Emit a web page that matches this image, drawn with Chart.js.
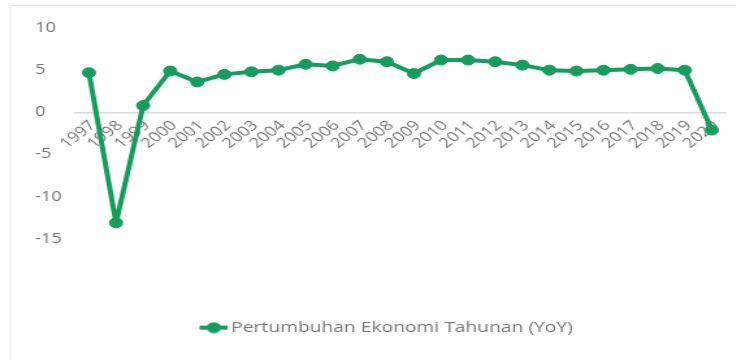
<!DOCTYPE html>
<html>
<head>
  <meta charset="utf-8" />
  <script src="https://cdn.jsdelivr.net/npm/chart.js@4.4.1/dist/chart.umd.min.js"></script>
  <style>
    body{margin:0;background:#fff;overflow:hidden;}
    /* chart is laid out narrow, then widened to fill the 736px window */
    #wrap{width:566px;height:360px;transform:scaleX(1.3);transform-origin:0 0;}
    #chart{display:block;}
  </style>
</head>
<body>
<div id="wrap"><canvas id="chart" width="566" height="360"></canvas></div>

<script>
/* ---------- Data ---------- */
const years = ['1997','1998','1999','2000','2001','2002','2003','2004','2005','2006','2007','2008',
               '2009','2010','2011','2012','2013','2014','2015','2016','2017','2018','2019','2020'];
const growthYoY = [4.7, -13.1, 0.8, 4.9, 3.6, 4.5, 4.8, 5.0, 5.7, 5.5, 6.3, 6.0,
                   4.6, 6.2, 6.2, 6.0, 5.6, 5.0, 4.9, 5.0, 5.1, 5.2, 5.0, -2.1];
const yTicks = [-15, -10, -5, 0, 5, 10];
const seriesName = 'Pertumbuhan Ekonomi Tahunan (YoY)';

/* ---------- Style ---------- */
const GREEN = '#169c5c';
const TXT = '#767676';
const FONT = "'Open Sans', sans-serif";

// legend marker: short thick line with a dot; drawn in the right part of a
// wider canvas so it sits close to the label text
function legendIcon(){
  const c = document.createElement('canvas');
  c.width = 36; c.height = 12;
  const g = c.getContext('2d');
  g.strokeStyle = GREEN; g.lineWidth = 4;
  g.beginPath(); g.moveTo(14, 6); g.lineTo(36, 6); g.stroke();
  g.fillStyle = GREEN;
  g.beginPath(); g.arc(25, 6, 5.5, 0, Math.PI*2); g.fill();
  return c;
}

// thin frame on top/left edges
const framePlugin = {
  id: 'frame',
  beforeDraw(chart){
    const ctx = chart.ctx;
    ctx.save();
    ctx.strokeStyle = '#e4e4e4';
    ctx.lineWidth = 1;
    ctx.beginPath();
    ctx.moveTo(8, 360); ctx.lineTo(8, 5.5); ctx.lineTo(566, 5.5);
    ctx.stroke();
    ctx.restore();
  }
};

new Chart(document.getElementById('chart'), {
  type: 'line',
  data: {
    labels: years,
    datasets: [{
      label: seriesName,
      data: growthYoY,
      borderColor: GREEN,
      backgroundColor: GREEN,
      borderWidth: 4,
      borderJoinStyle: 'round',
      borderCapStyle: 'round',
      pointRadius: 5,
      pointBorderWidth: 1,
      pointBackgroundColor: GREEN,
      pointBorderColor: GREEN,
      tension: 0
    }]
  },
  options: {
    responsive: false,
    animation: false,
    layout: { padding: { top: 28, left: 27, right: 8, bottom: 15 } },
    plugins: {
      tooltip: { enabled: false },
      legend: {
        position: 'bottom',
        title: { display: true, text: ' ', padding: { top: 57, bottom: 0 } },
        labels: {
          usePointStyle: true,
          pointStyle: legendIcon(),
          pointStyleWidth: 26,
          color: TXT,
          font: { family: FONT, size: 14.8 },
          padding: 10
        }
      }
    },
    scales: {
      x: {
        type: 'category',
        offset: true,
        position: { y: 0 },
        afterFit(s){ s.paddingLeft = 0; s.paddingRight = 0; },
        grid: { display: false, drawTicks: false },
        border: { display: true, color: '#d9d9d9', width: 1.5 },
        ticks: {
          autoSkip: false,
          maxRotation: 45, minRotation: 45,
          padding: 5,
          labelOffset: 3,
          color: TXT,
          font: { family: FONT, size: 14 }
        }
      },
      y: {
        min: -15, max: 10,
        afterFit(s){ s.width = 31; },
        afterBuildTicks(s){ s.ticks = yTicks.map(v => ({ value: v })); },
        grid: { display: false },
        border: { display: false },
        ticks: {
          crossAlign: 'far',
          color: TXT,
          font: { family: FONT, size: 14 }
        }
      }
    }
  },
  plugins: [framePlugin]
});
</script>
</body>
</html>
